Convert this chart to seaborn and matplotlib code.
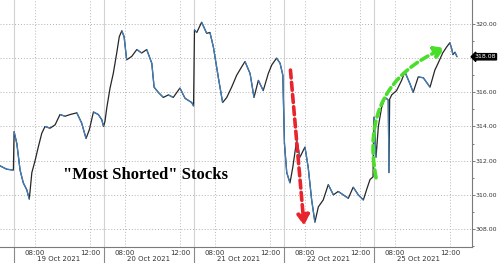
import numpy as np
import pandas as pd
import matplotlib
matplotlib.use("Agg")
import matplotlib.pyplot as plt
import seaborn as sns
from matplotlib.collections import LineCollection

# ---------------- data (session minutes from 19 Oct open, 390 min per session) ----------
minutes = [-61, -32, -3, 0, 12, 26, 40, 55, 66, 77, 91, 105, 120, 134, 156, 178, 199,
           221, 243, 272, 293, 312, 326, 344, 365, 380, 388, 394, 402, 416, 430, 445,
           456, 467, 477, 488, 510, 532, 553, 575, 597, 607, 625, 647, 669, 690, 719,
           741, 770, 778, 782, 792, 813, 835, 849, 864, 885, 904, 922, 943, 965, 987,
           1001, 1023, 1040, 1059, 1080, 1102, 1117, 1138, 1153, 1165, 1172, 1182,
           1196, 1208, 1225, 1239, 1261, 1275, 1290, 1304, 1319, 1340, 1362, 1384,
           1405, 1427, 1449, 1470, 1492, 1514, 1528, 1543, 1556, 1560, 1569, 1579,
           1593, 1608, 1622, 1625, 1628, 1637, 1658, 1680, 1694, 1716, 1730, 1752,
           1774, 1803, 1824, 1838, 1858, 1875, 1889, 1898, 1902, 1911, 1920]
values = [311.7, 311.5, 311.45, 313.7, 313.0, 311.45, 310.7, 310.3, 309.75, 311.3,
          312.0, 312.8, 313.6, 314.0, 313.9, 314.1, 314.7, 314.6, 314.7, 314.8, 314.2,
          313.3, 313.8, 314.85, 314.7, 314.4, 314.0, 314.3, 315.1, 316.25, 317.1,
          318.3, 319.25, 319.6, 319.25, 317.9, 318.1, 318.5, 318.3, 318.5, 317.7,
          316.3, 316.0, 315.7, 315.85, 315.7, 316.25, 315.65, 315.4, 315.2, 319.65,
          319.5, 320.1, 319.45, 319.5, 318.65, 316.9, 315.4, 315.7, 316.3, 317.0,
          317.5, 317.8, 317.1, 315.7, 316.7, 316.1, 317.1, 317.6, 318.0, 317.7, 317.0,
          313.0, 311.3, 310.7, 311.6, 313.2, 312.2, 312.8, 311.6, 309.7, 308.4, 309.3,
          309.7, 310.6, 310.0, 310.2, 310.0, 309.8, 310.45, 310.0, 309.7, 310.3, 310.9,
          311.05, 314.55, 312.2, 314.0, 315.1, 315.7, 315.55, 311.3, 315.6, 315.85,
          316.1, 316.7, 317.2, 316.5, 316.0, 316.9, 316.85, 316.3, 317.3, 317.7,
          318.3, 318.65, 318.9, 318.5, 318.2, 318.35, 318.08]
day_labels = ["19 Oct 2021", "20 Oct 2021", "21 Oct 2021", "22 Oct 2021", "25 Oct 2021"]
time_labels = ["08:00", "12:00"]
time_offsets = [90, 330]          # minutes after 06:30 session open
y_ticks = [308, 310, 312, 314, 316, 318, 320]
last_value = 318.08
title_text = '"Most Shorted" Stocks'
SESSION = 390

# ---------------- figure ----------------
sns.set_theme(style="white")
plt.rcParams["font.family"] = ["DejaVu Sans"]
fig = plt.figure(figsize=(5.0, 2.63), dpi=100)
ax = fig.add_axes([0.0, 16 / 263, 0.944, 247 / 263])

df = pd.DataFrame({"t": minutes, "v": values})
sns.lineplot(data=df, x="t", y="v", ax=ax, color="#262626", lw=0.9, zorder=3)
# falling legs in blue
t = np.array(minutes, float)
v = np.array(values, float)
segs = [[(t[i], v[i]), (t[i + 1], v[i + 1])] for i in range(len(t) - 1) if v[i + 1] < v[i]]
ax.add_collection(LineCollection(segs, colors="#3f80c0", linewidths=0.9, zorder=3.5))

ax.set_xlim(-61, 1985)
ax.set_ylim(306.95, 321.4)
ax.set_xlabel("")
ax.set_ylabel("")

# grid
for y in y_ticks:
    ax.axhline(y, color="#b0b0b0", ls=(0, (1, 2)), lw=0.7, zorder=1)
xt, xl = [], []
for d in range(len(day_labels)):
    for off, lab in zip(time_offsets, time_labels):
        xt.append(d * SESSION + off)
        xl.append(lab)
        ax.axvline(d * SESSION + off, color="#b8b8b8", ls=(0, (1, 2)), lw=0.7, zorder=1)
    x0 = d * SESSION
    ax.axvline(x0, color="#d2d2d2", lw=0.8, zorder=1)
    ax.plot([x0, x0], [0, -0.07], transform=ax.get_xaxis_transform(), clip_on=False,
            color="#8a8a8a", lw=0.8)
    ax.text(x0 + SESSION / 2, -0.048, day_labels[d], transform=ax.get_xaxis_transform(),
            ha="center", va="center", fontsize=5.0, color="#333333")

ax.set_xticks(xt)
ax.set_xticklabels(xl)
ax.set_xticks([d * SESSION + 210 for d in range(len(day_labels))], minor=True)
ax.tick_params(axis="x", which="major", length=2, width=0.6, color="#777777",
               labelsize=5.0, pad=0.5, labelcolor="#333333")
ax.tick_params(axis="x", which="minor", length=1.5, width=0.6, color="#777777")

ax.yaxis.tick_right()
ax.set_yticks(y_ticks)
ax.set_yticklabels(["" if y == 318 else f"{y:.2f}" for y in y_ticks])
ax.set_yticks([y + 1 for y in y_ticks[:-1]] + [307], minor=True)
ax.tick_params(axis="y", which="major", length=2.2, width=0.6, color="#666666",
               labelsize=4.5, pad=0.5, labelcolor="#333333")
ax.tick_params(axis="y", which="minor", length=1.5, width=0.6, color="#666666")

for s in ["left", "top"]:
    ax.spines[s].set_visible(False)
for s in ["bottom", "right"]:
    ax.spines[s].set_color("#7a7a7a")
    ax.spines[s].set_linewidth(0.8)

ax.text(1.005, last_value, f"{last_value:.2f}", transform=ax.get_yaxis_transform(),
        ha="left", va="center", fontsize=4.5, color="white", zorder=10, clip_on=False,
        bbox=dict(boxstyle="larrow,pad=0.1", fc="black", ec="black"))

ax.text(212, 311.16, title_text, ha="left", va="center", fontsize=12,
        family="Liberation Serif", weight="bold", color="black", zorder=6)

# arrows
ax.annotate("", xy=(1257, 308.2), xytext=(1198, 317.3),
            arrowprops=dict(arrowstyle="-|>,head_length=0.5,head_width=0.3",
                            color="#e8242c", lw=2.6, linestyle=(0, (2.2, 1.2)),
                            shrinkA=0, shrinkB=0), zorder=7)
ax.annotate("", xy=(1868, 318.6), xytext=(1569, 311.0),
            arrowprops=dict(arrowstyle="-|>,head_length=0.5,head_width=0.3",
                            color="#4ade2a", lw=2.6, linestyle=(0, (2.2, 1.2)),
                            shrinkA=0, shrinkB=0,
                            connectionstyle="arc3,rad=-0.4"), zorder=7)

fig.savefig("out.png", dpi=100)
